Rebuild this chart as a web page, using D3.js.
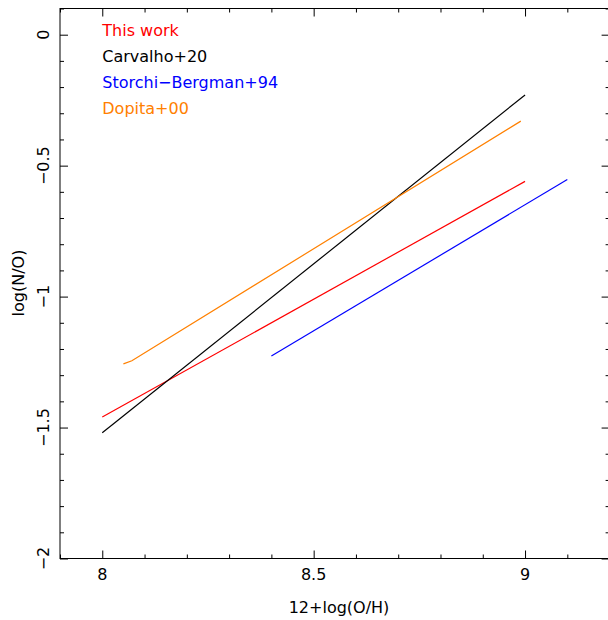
<!DOCTYPE html>
<html>
<head>
<meta charset="utf-8">
<script src="https://cdn.jsdelivr.net/npm/d3@7"></script>
<style>
  html, body { margin: 0; padding: 0; background: #fff; }
  svg { display: block; font-family: "DejaVu Sans", sans-serif; }
</style>
</head>
<body>
<svg id="chart" width="608" height="620"></svg>
<script>
// N/O versus O/H calibrations
const series = ["This work", "Carvalho+20", "Storchi−Bergman+94", "Dopita+00"];
const colors = ["#ff0000", "#000000", "#0000ff", "#ff8000"];

const thisWorkOH = [8.0, 9.0];
const thisWorkNO = [-1.46, -0.56];

const carvalhoOH = [8.0, 9.0];
const carvalhoNO = [-1.52, -0.23];

const storchiOH = [8.4, 9.1];
const storchiNO = [-1.227, -0.553];

const dopitaOH = [8.05, 8.07, 8.99];
const dopitaNO = [-1.257, -1.245, -0.330];

const xMajor = [8, 8.5, 9];
const xTickLabels = ["8", "8.5", "9"];
const yMajor = [0, -0.5, -1, -1.5, -2];
const yTickLabels = ["0", "−0.5", "−1", "−1.5", "−2"];

const svg = d3.select("#chart");
const x = d3.scaleLinear().domain([7.9, 9.2]).range([60, 609.6]);
const y = d3.scaleLinear().domain([-2, 0.1]).range([558.5, 8.5]);

const xMinor = d3.range(79, 93).map(v => v / 10).filter(v => !xMajor.some(m => Math.abs(m - v) < 1e-9));
const yMinor = d3.range(-20, 2).map(v => v / 10).filter(v => !yMajor.some(m => Math.abs(m - v) < 1e-9));

// frame
svg.append("rect")
  .attr("x", x.range()[0]).attr("y", y.range()[1])
  .attr("width", x.range()[1] - x.range()[0])
  .attr("height", y.range()[0] - y.range()[1])
  .attr("fill", "none").attr("stroke", "#000").attr("stroke-width", 1);

function addAxis(gen, transform) {
  const g = svg.append("g").attr("transform", transform).call(gen);
  g.select(".domain").remove();
  g.selectAll(".tick line").attr("stroke", "#000").attr("stroke-width", 1);
  return g;
}

const H = y.range()[0], T = y.range()[1], L = x.range()[0], R = x.range()[1];

// major and minor ticks on all four sides, pointing inward
addAxis(d3.axisBottom(x).tickValues(xMajor).tickSize(-8).tickFormat(""), `translate(0,${H})`);
addAxis(d3.axisBottom(x).tickValues(xMinor).tickSize(-4).tickFormat(""), `translate(0,${H})`);
addAxis(d3.axisTop(x).tickValues(xMajor).tickSize(-8).tickFormat(""), `translate(0,${T})`);
addAxis(d3.axisTop(x).tickValues(xMinor).tickSize(-4).tickFormat(""), `translate(0,${T})`);
addAxis(d3.axisLeft(y).tickValues(yMajor).tickSize(-8).tickFormat(""), `translate(${L},0)`);
addAxis(d3.axisLeft(y).tickValues(yMinor).tickSize(-4).tickFormat(""), `translate(${L},0)`);
addAxis(d3.axisRight(y).tickValues(yMajor).tickSize(-8).tickFormat(""), `translate(${R},0)`);
addAxis(d3.axisRight(y).tickValues(yMinor).tickSize(-4).tickFormat(""), `translate(${R},0)`);

// tick labels
svg.append("g").selectAll("text").data(xMajor).join("text")
  .attr("x", d => x(d)).attr("y", 580)
  .attr("text-anchor", "middle").attr("font-size", 16)
  .text((d, i) => xTickLabels[i]);

svg.append("g").selectAll("text").data(yMajor).join("text")
  .attr("transform", d => `translate(49,${y(d)}) rotate(-90)`)
  .attr("text-anchor", "middle").attr("font-size", 16)
  .text((d, i) => yTickLabels[i]);

// axis titles
svg.append("text").attr("x", 339).attr("y", 613)
  .attr("text-anchor", "middle").attr("font-size", 16)
  .text("12+log(O/H)");
svg.append("text").attr("transform", "translate(24,283) rotate(-90)")
  .attr("text-anchor", "middle").attr("font-size", 16)
  .text("log(N/O)");

// relations
const line = d3.line().x(d => x(d[0])).y(d => y(d[1]));
const data = [
  d3.zip(thisWorkOH, thisWorkNO),
  d3.zip(carvalhoOH, carvalhoNO),
  d3.zip(storchiOH, storchiNO),
  d3.zip(dopitaOH, dopitaNO)
];
svg.append("g").selectAll("path").data(data).join("path")
  .attr("d", line)
  .attr("fill", "none")
  .attr("stroke", (d, i) => colors[i])
  .attr("stroke-width", 1.2);

// legend
const legendY = [0, -0.1, -0.2, -0.3];
svg.append("g").selectAll("text").data(series).join("text")
  .attr("x", x(8)).attr("y", (d, i) => y(legendY[i]) + 1)
  .attr("font-size", 16)
  .attr("fill", (d, i) => colors[i])
  .text(d => d);
</script>
</body>
</html>
